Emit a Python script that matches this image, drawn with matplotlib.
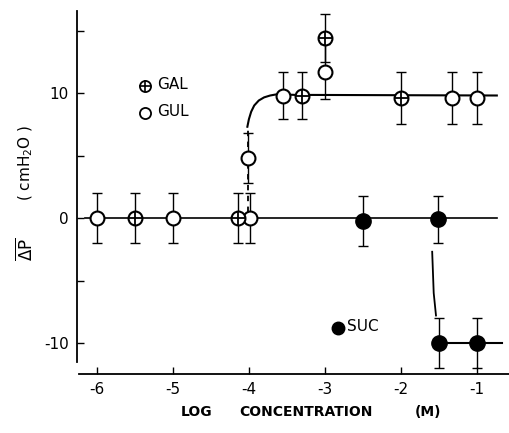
import matplotlib.pyplot as plt

# GUL (open circles)
gul_x = [-6.0, -5.0, -3.98, -4.01, -3.55, -3.0, -1.33, -1.0]
gul_y = [0.0, 0.0, 0.0, 4.8, 9.8, 11.7, 9.6, 9.6]
gul_err = [2.0, 2.0, 2.0, 2.0, 1.9, 2.2, 2.1, 2.1]

# GAL (crossed circles)
gal_x = [-5.5, -4.14, -3.3, -3.0, -2.0]
gal_y = [0.0, 0.0, 9.8, 14.4, 9.6]
gal_err = [2.0, 2.0, 1.9, 1.9, 2.1]

# SUC (filled circles)
suc_x = [-2.5, -1.52, -1.5, -1.0]
suc_y = [-0.2, -0.1, -10.0, -10.0]
suc_err = [2.0, 1.9, 2.0, 2.0]

# hand drawn curves
base_x = [-6.16, -0.74]
base_y = [0.0, 0.0]
rise_x = [-4.02, -4.0, -3.97, -3.93, -3.87, -3.8, -3.72, -3.63, -3.4, -0.74]
rise_y = [7.3, 7.9, 8.5, 9.0, 9.4, 9.65, 9.8, 9.9, 9.85, 9.8]
dash_x = [-4.01, -4.01]
dash_y = [0.5, 7.3]
drop_x = [-1.59, -1.57, -1.54]
drop_y = [-2.7, -6.0, -7.8]
low_x = [-1.5, -0.67]
low_y = [-10.0, -10.0]

xticks = [-6, -5, -4, -3, -2, -1]
xlabels = ['-6', '-5', '-4', '-3', '-2', '-1']
yticks = [-10, -5, 0, 5, 10, 15]
ylabels = ['-10', '', '0', '', '10', '']

fig = plt.figure(figsize=(5.09, 4.33), dpi=100)
ax = fig.add_axes([77 / 509, (433 - 374) / 433, 432 / 509, 364 / 433])
ax.set_xlim(-6.26, -0.58)
ax.set_ylim(-12.48, 16.64)

k = 'black'
ax.plot(base_x, base_y, color=k, lw=1.2, zorder=1)
ax.plot(rise_x, rise_y, color=k, lw=1.5, zorder=1)
ax.plot(dash_x, dash_y, color=k, lw=1.3, ls=(0, (3, 3)), zorder=1)
ax.plot(drop_x, drop_y, color=k, lw=1.3, zorder=1)
ax.plot(low_x, low_y, color=k, lw=1.5, zorder=1)

eb = dict(fmt='none', ecolor=k, elinewidth=1.0, capsize=3.5, capthick=1.0, zorder=2)
ax.errorbar(gul_x, gul_y, yerr=gul_err, **eb)
ax.errorbar(gal_x, gal_y, yerr=gal_err, **eb)
ax.errorbar(suc_x, suc_y, yerr=suc_err, **eb)

ax.plot(gul_x, gul_y, 'o', ms=10, mfc='white', mec=k, mew=1.5, ls='none', zorder=3)
ax.plot(gal_x, gal_y, 'o', ms=10, mfc='white', mec=k, mew=1.5, ls='none', zorder=3)
ax.plot(gal_x, gal_y, '+', ms=10, mec=k, mew=1.3, ls='none', zorder=4)
ax.plot(suc_x, suc_y, 'o', ms=11, mfc=k, mec=k, ls='none', zorder=3)

# legend entries as in the figure
ax.plot([-5.36], [10.6], 'o', ms=8, mfc='white', mec=k, mew=1.3)
ax.plot([-5.36], [10.6], '+', ms=8, mec=k, mew=1.2)
ax.text(-5.2, 10.7, 'GAL', fontsize=11, va='center', ha='left')
ax.plot([-5.36], [8.4], 'o', ms=8, mfc='white', mec=k, mew=1.3)
ax.text(-5.2, 8.5, 'GUL', fontsize=11, va='center', ha='left')
ax.plot([-2.83], [-8.8], 'o', ms=9, mfc=k, mec=k)
ax.text(-2.71, -8.7, 'SUC', fontsize=11, va='center', ha='left')

ax.set_xticks(xticks)
ax.set_xticklabels(xlabels, fontsize=11)
ax.set_yticks(yticks)
ax.set_yticklabels(ylabels, fontsize=11)
ax.tick_params(direction='in', length=5, width=1.0, pad=6)

ax.spines['top'].set_visible(False)
ax.spines['right'].set_visible(False)
ax.spines['left'].set_bounds(-11.5, 16.6)
ax.spines['bottom'].set_bounds(-6.24, -0.58)
ax.spines['left'].set_linewidth(1.3)
ax.spines['bottom'].set_linewidth(1.3)

lab = dict(fontsize=10, fontweight='bold', va='center', ha='center')
fig.text(197 / 509, 1 - 412 / 433, 'LOG', **lab)
fig.text(306 / 509, 1 - 412 / 433, 'CONCENTRATION', **lab)
fig.text(428 / 509, 1 - 412 / 433, '(M)', **lab)
fig.text(26 / 509, 1 - 249 / 433, r'$\overline{\mathit{\Delta}\mathrm{P}}$', fontsize=12,
         rotation=90, va='center', ha='center')
fig.text(26 / 509, 1 - 163 / 433, r'( cmH$_2$O )', fontsize=11,
         rotation=90, va='center', ha='center')

fig.savefig('out.png', dpi=100)
